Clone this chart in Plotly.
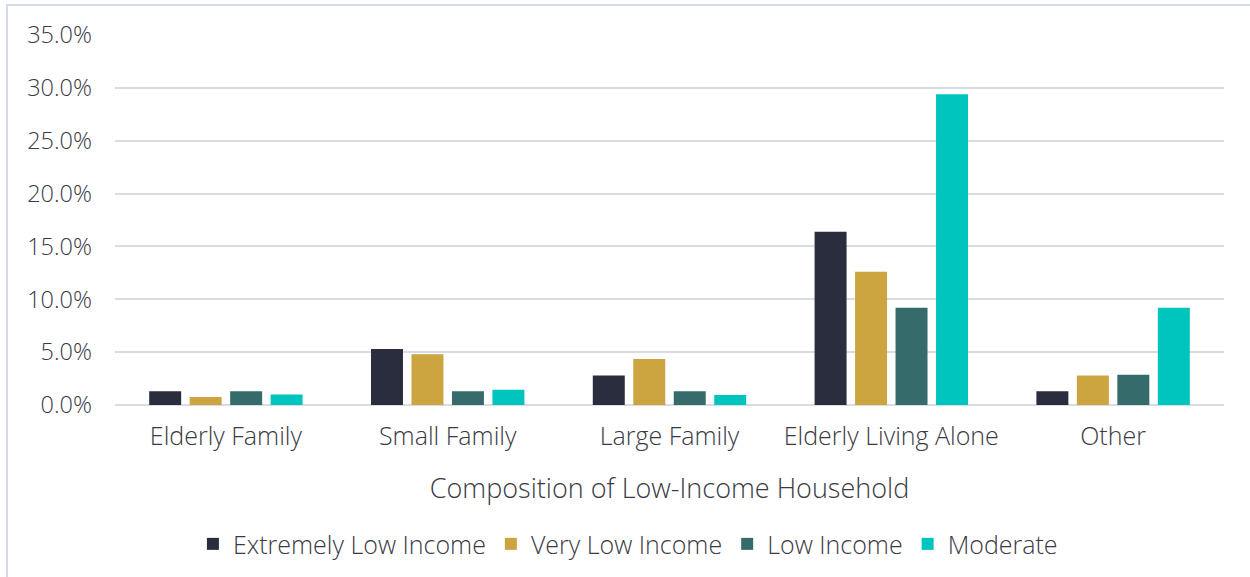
import plotly.graph_objects as go

# --- Daten ---
categories = ['Elderly Family', 'Small Family', 'Large Family', 'Elderly Living Alone', 'Other']
extremely_low = [0.013, 0.053, 0.028, 0.164, 0.013]
very_low = [0.0075, 0.048, 0.0435, 0.126, 0.028]
low_income = [0.013, 0.013, 0.013, 0.092, 0.0285]
moderate = [0.010, 0.0145, 0.0095, 0.294, 0.092]

series = [
    ('Extremely Low Income', extremely_low, '#2A2D3E'),
    ('Very Low Income', very_low, '#CCA541'),
    ('Low Income', low_income, '#366B6B'),
    ('Moderate', moderate, '#00C5BE'),
]

text_color = '#3A3A44'
grid_color = '#D9DBE5'

fig = go.Figure()
for name, vals, color in series:
    fig.add_trace(go.Bar(x=categories, y=vals, name=name, marker_color=color,
                         marker_line_width=0))

fig.update_layout(
    width=1250, height=577,
    barmode='group', bargap=0.27, bargroupgap=0.21,
    plot_bgcolor='white', paper_bgcolor='white',
    font=dict(family='Open Sans', size=24, color=text_color, weight=300),
    margin=dict(l=115, r=26, t=35, b=172, autoexpand=False),
    xaxis=dict(
        title=dict(text='Composition of Low-Income Household', font=dict(size=27, weight=300),
                   standoff=28),
        showgrid=False, showline=False, ticks='', automargin=False,
        tickfont=dict(size=25, weight=300), ticklabelstandoff=14,
    ),
    yaxis=dict(
        range=[0, 0.35], dtick=0.05, tickformat='.1%', automargin=False,
        showgrid=True, gridcolor=grid_color, gridwidth=2,
        zeroline=True, zerolinecolor=grid_color, zerolinewidth=2,
        showline=False, ticklabelstandoff=22, tickfont=dict(size=23.5, weight=300),
    ),
    legend=dict(orientation='h', x=0.4625, xanchor='center', y=-0.376, yanchor='middle',
                font=dict(size=25, weight=300), itemwidth=30, traceorder='normal'),
    showlegend=True,
    shapes=[dict(type='rect', xref='paper', yref='paper',
                 x0=-0.0974, x1=1.1, y0=-1.0, y1=1.081,
                 line=dict(color='#D5DAEA', width=2), layer='below')],
)

# Standard-Rand des Browsers entfernen, damit die Grafik bei (0,0) beginnt
fig.write_html('out.html', config={'displayModeBar': False},
               post_script="document.body.style.margin='0';")
